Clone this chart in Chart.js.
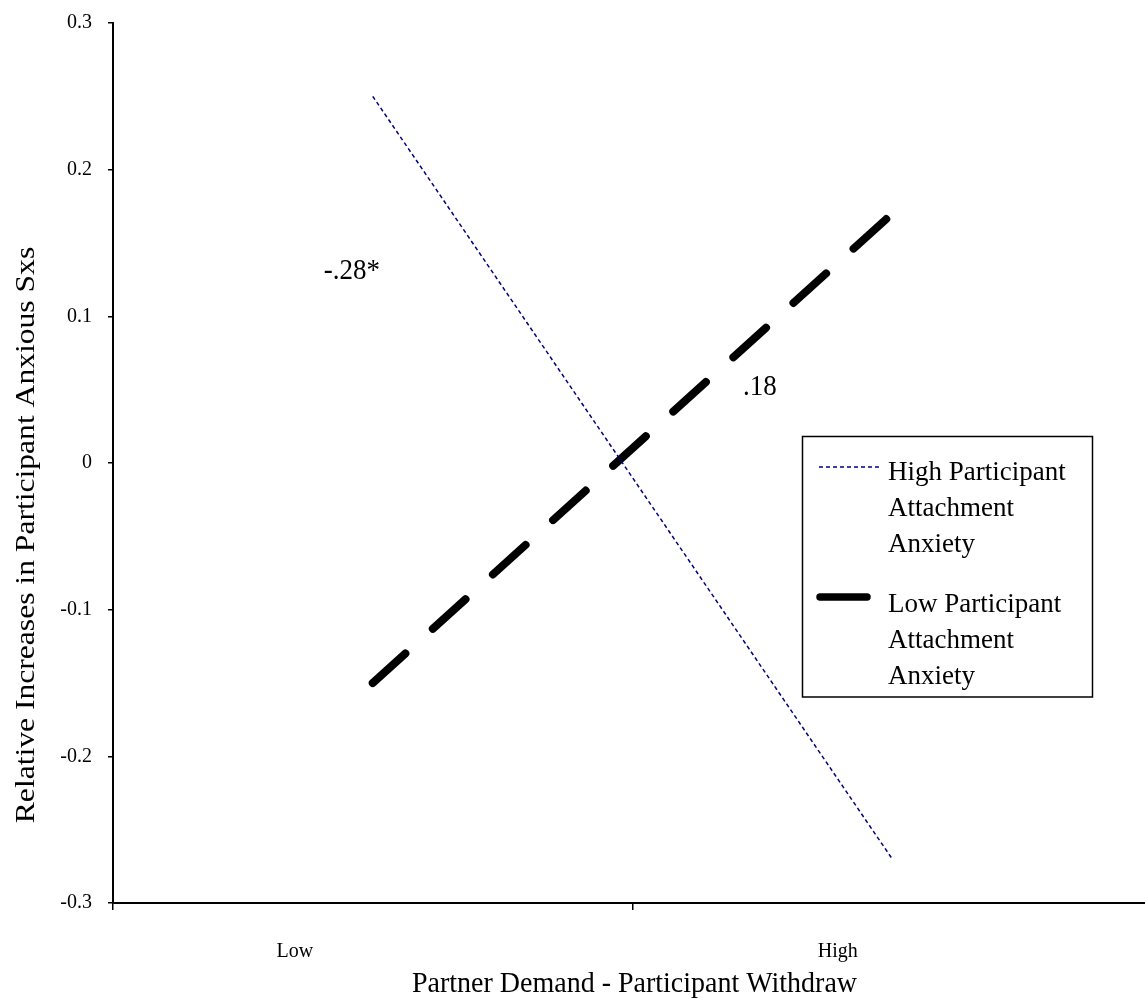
<!DOCTYPE html>
<html>
<head>
<meta charset="utf-8">
<script src="https://cdn.jsdelivr.net/npm/chart.js@4.4.1/dist/chart.umd.min.js"></script>
<style>
  html, body { margin: 0; padding: 0; background: #fff; overflow: hidden; }
  #wrap { width: 1160px; height: 998px; }
</style>
</head>
<body>
<div id="wrap"><canvas id="c" width="1160" height="998"></canvas></div>
<script>
// Simple slopes: partner demand / participant withdraw (-1 SD = Low, +1 SD = High)
const categories = ['Low', 'High'];
const demandLevels = [-1, 1];
const highAnxietyValues = [0.25, -0.27];
const lowAnxietyValues = [-0.15, 0.17];
const yTicks = [-0.3, -0.2, -0.1, 0, 0.1, 0.2, 0.3];
const seriesNames = [
  ['High Participant', 'Attachment', 'Anxiety'],
  ['Low Participant', 'Attachment', 'Anxiety']
];
const slopeLabels = ['-.28*', '.18'];
const slopeLabelPoints = [[-1.08, 0.131], [0.49, 0.052]];
const categoryLabelPoints = [-1.30, 0.79];

const SERIF = "'Liberation Serif', 'Times New Roman', serif";
const NAVY = '#000080';

const toPoints = (xs, ys) => xs.map((x, i) => ({ x: x, y: ys[i] }));

// text drawn with an optional stretch along x / y
function stretchedText(ctx, text, x, y, sx, sy) {
  ctx.save();
  ctx.translate(x, y);
  ctx.scale(sx, sy);
  ctx.fillText(text, 0, 0);
  ctx.restore();
}

const decorations = {
  id: 'decorations',
  afterDraw(chart) {
    const { ctx, chartArea, scales } = chart;
    const xs = scales.x, ys = scales.y;
    ctx.save();
    ctx.fillStyle = '#000';

    // category labels under the x axis
    ctx.textBaseline = 'alphabetic';
    ctx.textAlign = 'center';
    ctx.font = '20px ' + SERIF;
    categories.forEach((c, i) => {
      ctx.fillText(c, xs.getPixelForValue(categoryLabelPoints[i]), chartArea.bottom + 54);
    });

    // x axis title
    ctx.font = '28px ' + SERIF;
    stretchedText(ctx, 'Partner Demand - Participant Withdraw',
      (chartArea.left + chartArea.right) / 2 + 2, chartArea.bottom + 89, 1, 1.08);

    // y axis title (reads bottom to top)
    ctx.save();
    ctx.font = '27px ' + SERIF;
    ctx.translate(33.5, (chartArea.top + chartArea.bottom) / 2 + 72);
    ctx.rotate(-Math.PI / 2);
    ctx.scale(1.17, 1);
    ctx.fillText('Relative Increases in Participant Anxious Sxs', 0, 0);
    ctx.restore();

    // slope labels
    ctx.font = '27px ' + SERIF;
    ctx.textBaseline = 'middle';
    slopeLabels.forEach((t, i) => {
      const p = slopeLabelPoints[i];
      stretchedText(ctx, t, xs.getPixelForValue(p[0]), ys.getPixelForValue(p[1]), 1, 1.12);
    });

    // legend
    const box = { left: 802.5, top: 436.5, right: 1092.5, bottom: 697 };
    ctx.lineWidth = 1.5;
    ctx.strokeStyle = '#000';
    ctx.strokeRect(box.left, box.top, box.right - box.left, box.bottom - box.top);

    const items = [
      { color: NAVY, width: 1.5, dash: [4, 3], cap: 'butt', y: 467, x0: 819, x1: 880, base: 480 },
      { color: '#000', width: 7.5, dash: [], cap: 'round', y: 597, x0: 820, x1: 867, base: 612 }
    ];
    ctx.textAlign = 'left';
    ctx.textBaseline = 'alphabetic';
    ctx.font = '27px ' + SERIF;
    items.forEach((it, i) => {
      ctx.save();
      ctx.strokeStyle = it.color;
      ctx.lineWidth = it.width;
      ctx.setLineDash(it.dash);
      ctx.lineCap = it.cap;
      ctx.beginPath();
      ctx.moveTo(it.x0, it.y);
      ctx.lineTo(it.x1, it.y);
      ctx.stroke();
      ctx.restore();
      seriesNames[i].forEach((line, k) => {
        stretchedText(ctx, line, 888, it.base + k * 36, 1, 1.03);
      });
    });
    ctx.restore();
  }
};

new Chart(document.getElementById('c'), {
  type: 'line',
  data: {
    datasets: [
      {
        label: seriesNames[0].join(' '),
        data: toPoints(demandLevels, highAnxietyValues),
        borderColor: NAVY,
        borderWidth: 1.5,
        borderDash: [4, 3],
        pointRadius: 0,
        fill: false
      },
      {
        label: seriesNames[1].join(' '),
        data: toPoints(demandLevels, lowAnxietyValues),
        borderColor: '#000',
        borderWidth: 8,
        borderDash: [44, 37],
        borderCapStyle: 'round',
        pointRadius: 0,
        fill: false
      }
    ]
  },
  options: {
    responsive: false,
    animation: false,
    devicePixelRatio: 1,
    layout: { padding: { top: 23, right: 8, left: 0, bottom: 0 } },
    plugins: { legend: { display: false }, tooltip: { enabled: false } },
    scales: {
      x: {
        type: 'linear',
        min: -2,
        max: 2,
        afterBuildTicks: (s) => { s.ticks = [{ value: -2 }, { value: 0 }, { value: 2 }]; },
        ticks: { callback: () => '', padding: 0 },
        grid: { drawOnChartArea: false, drawTicks: true, tickLength: 7, color: '#000', lineWidth: 1.5 },
        border: { display: true, color: '#000', width: 2 },
        afterFit: (s) => { s.height = 95; }
      },
      y: {
        type: 'linear',
        min: -0.3,
        max: 0.3,
        afterBuildTicks: (s) => { s.ticks = yTicks.map(v => ({ value: v })); },
        ticks: {
          color: '#000',
          font: { family: SERIF, size: 20 },
          padding: 16,
          callback: (v) => String(Number(v.toFixed(1)))
        },
        grid: { drawOnChartArea: false, drawTicks: true, tickLength: 5, color: '#000', lineWidth: 1.5 },
        border: { display: true, color: '#000', width: 2 },
        afterFit: (s) => { s.width = 113; s.paddingTop = 12; s.paddingBottom = 12; }
      }
    }
  },
  plugins: [decorations]
});
</script>
</body>
</html>
